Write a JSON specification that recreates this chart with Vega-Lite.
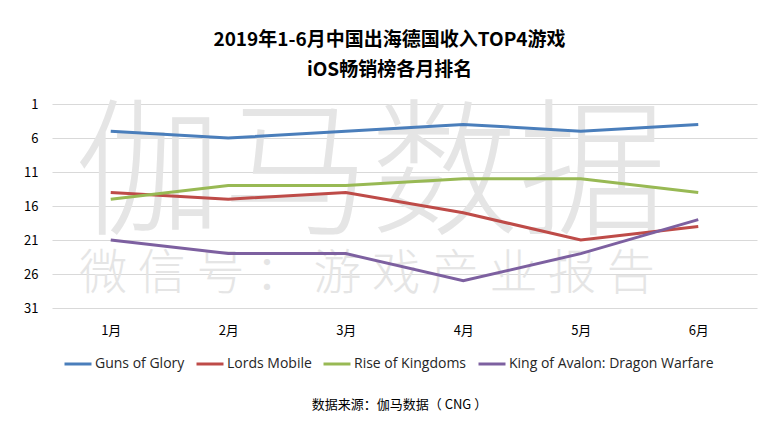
{
  "$schema": "https://vega.github.io/schema/vega-lite/v6.json",
  "width": 705,
  "height": 204,
  "autosize": "none",
  "padding": {"left": 52, "top": 104, "right": 21, "bottom": 124},
  "background": "white",
  "title": {
    "text": ["2019年1-6月中国出海德国收入TOP4游戏", "iOS畅销榜各月排名"],
    "font": "Noto Sans CJK SC",
    "fontSize": 19,
    "fontWeight": "bold",
    "lineHeight": 30,
    "color": "#000000",
    "anchor": "middle",
    "offset": 18,
    "dx": -15
  },
  "config": {
    "view": {"stroke": null},
    "font": "Open Sans, Noto Sans CJK SC"
  },
  "layer": [
    {
      "data": {"values": [{}]},
      "mark": {"type": "text", "text": "伽马数据", "font": "Noto Sans CJK SC", "fontWeight": 300, "fontSize": 148, "color": "#e5e5e5", "align": "center", "baseline": "middle"},
      "encoding": {
        "x": {"datum": 3.21, "type": "quantitative"},
        "y": {"datum": 12, "type": "quantitative"}
      }
    },
    {
      "data": {"values": [{}]},
      "mark": {"type": "text", "text": "微 信 号 ： 游 戏 产 业 报 告", "font": "Noto Sans CJK SC", "fontWeight": 300, "fontSize": 48, "color": "#e5e5e5", "align": "center", "baseline": "middle"},
      "encoding": {
        "x": {"datum": 3.18, "type": "quantitative"},
        "y": {"datum": 26.1, "type": "quantitative"}
      }
    },
    {
      "data": {
        "values": [
          {"month": 1, "game": "Guns of Glory", "rank": 5},
          {"month": 2, "game": "Guns of Glory", "rank": 6},
          {"month": 3, "game": "Guns of Glory", "rank": 5},
          {"month": 4, "game": "Guns of Glory", "rank": 4},
          {"month": 5, "game": "Guns of Glory", "rank": 5},
          {"month": 6, "game": "Guns of Glory", "rank": 4},
          {"month": 1, "game": "Lords Mobile", "rank": 14},
          {"month": 2, "game": "Lords Mobile", "rank": 15},
          {"month": 3, "game": "Lords Mobile", "rank": 14},
          {"month": 4, "game": "Lords Mobile", "rank": 17},
          {"month": 5, "game": "Lords Mobile", "rank": 21},
          {"month": 6, "game": "Lords Mobile", "rank": 19},
          {"month": 1, "game": "Rise of Kingdoms", "rank": 15},
          {"month": 2, "game": "Rise of Kingdoms", "rank": 13},
          {"month": 3, "game": "Rise of Kingdoms", "rank": 13},
          {"month": 4, "game": "Rise of Kingdoms", "rank": 12},
          {"month": 5, "game": "Rise of Kingdoms", "rank": 12},
          {"month": 6, "game": "Rise of Kingdoms", "rank": 14},
          {"month": 1, "game": "King of Avalon: Dragon Warfare", "rank": 21},
          {"month": 2, "game": "King of Avalon: Dragon Warfare", "rank": 23},
          {"month": 3, "game": "King of Avalon: Dragon Warfare", "rank": 23},
          {"month": 4, "game": "King of Avalon: Dragon Warfare", "rank": 27},
          {"month": 5, "game": "King of Avalon: Dragon Warfare", "rank": 23},
          {"month": 6, "game": "King of Avalon: Dragon Warfare", "rank": 18}
        ]
      },
      "mark": {"type": "line", "strokeWidth": 3},
      "encoding": {
        "x": {
          "field": "month",
          "type": "quantitative",
          "scale": {"domain": [0.5, 6.5], "nice": false, "zero": false},
          "axis": {
            "values": [1, 2, 3, 4, 5, 6],
            "tickCount": 6,
            "labelExpr": "datum.value + '月'",
            "labelFont": "Noto Sans CJK SC",
            "labelFontSize": 13,
            "labelColor": "#000000",
            "labelPadding": 16,
            "labelOverlap": false,
            "grid": false,
            "ticks": false,
            "domain": false,
            "title": "数据来源：伽马数据（ CNG ）",
            "titleFont": "Noto Sans CJK SC",
            "titleFontSize": 13,
            "titleFontWeight": "normal",
            "titleColor": "#000000",
            "titleX": 347,
            "titleY": 96,
            "titleBaseline": "middle"
          }
        },
        "y": {
          "field": "rank",
          "type": "quantitative",
          "scale": {"domain": [1, 31], "reverse": true, "nice": false, "zero": false},
          "axis": {
            "values": [1, 6, 11, 16, 21, 26, 31],
            "tickCount": 7,
            "labelOverlap": false,
            "labelFont": "Noto Sans CJK SC",
            "labelFontSize": 13,
            "labelColor": "#000000",
            "labelPadding": 14,
            "grid": true,
            "gridColor": "#d9d9d9",
            "gridWidth": 1,
            "ticks": false,
            "domain": false,
            "title": null
          }
        },
        "color": {
          "field": "game",
          "type": "nominal",
          "scale": {
            "domain": ["Guns of Glory", "Lords Mobile", "Rise of Kingdoms", "King of Avalon: Dragon Warfare"],
            "range": ["#4a7ebb", "#be4b48", "#98b954", "#7d60a0"]
          },
          "legend": {
            "orient": "none",
            "legendX": 11,
            "legendY": 245,
            "direction": "horizontal",
            "title": null,
            "symbolType": "stroke",
            "symbolStrokeWidth": 3,
            "symbolSize": 729,
            "labelFontSize": 14,
            "labelColor": "#262626",
            "labelOffset": 2,
            "labelLimit": 300,
            "columnPadding": 5
          }
        }
      }
    }
  ]
}
